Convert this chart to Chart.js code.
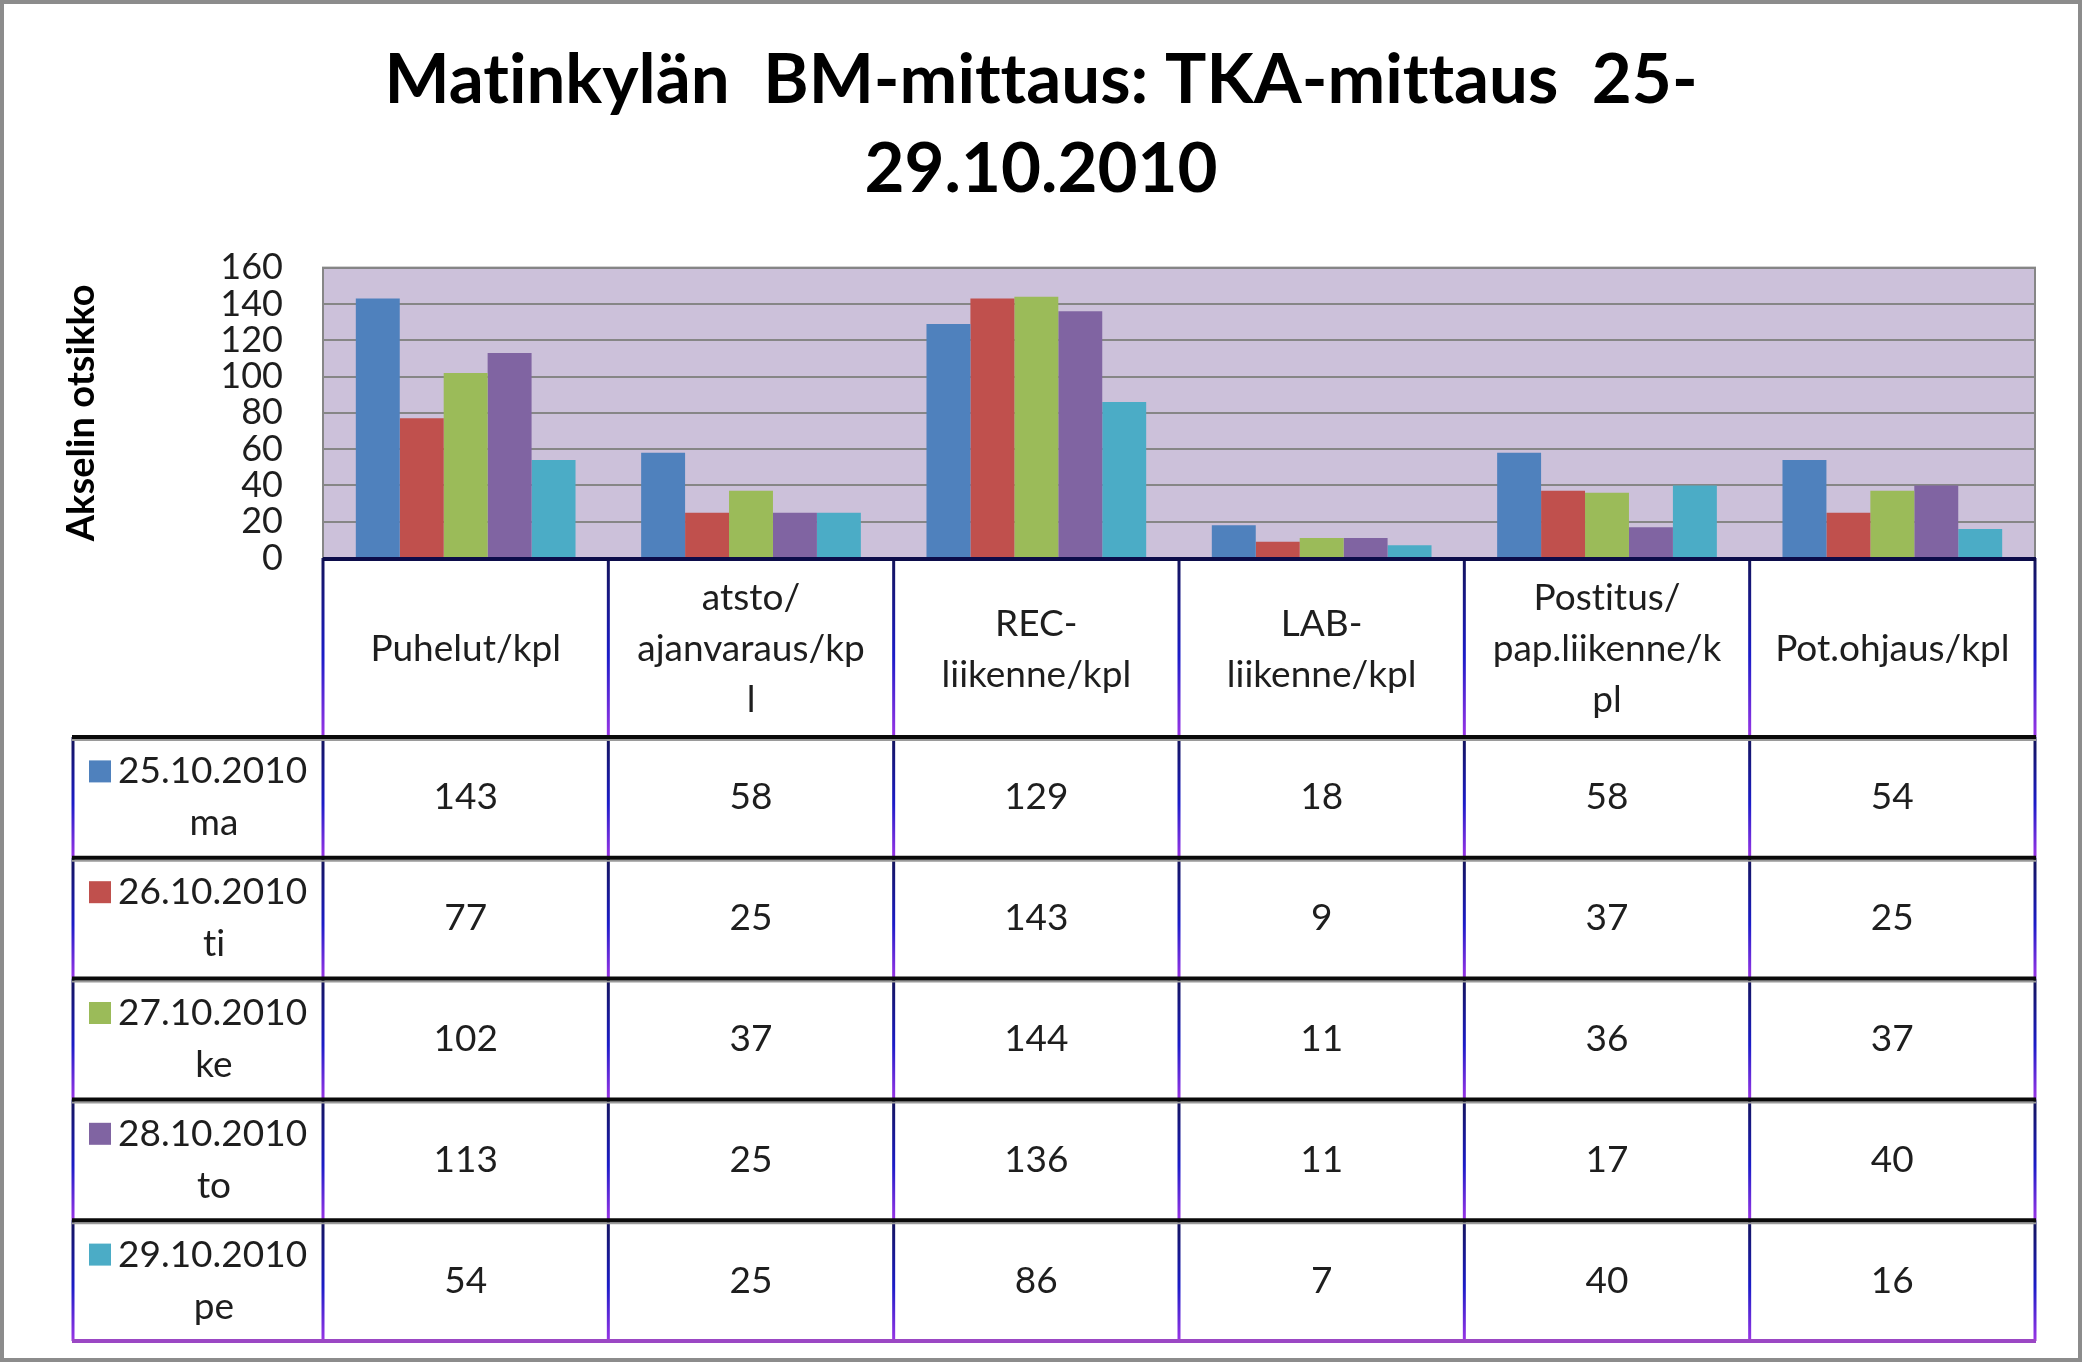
<!DOCTYPE html>
<html><head><meta charset="utf-8">
<script src="https://cdn.jsdelivr.net/npm/chart.js@4.4.1/dist/chart.umd.min.js"></script>
<style>html,body{margin:0;padding:0;background:#fff;overflow:hidden}canvas{display:block}</style>
</head><body>
<canvas id="c" width="2082" height="1362"></canvas>
<script>
// ---- data ----
const categories = ['Puhelut/kpl', 'atsto/ajanvaraus/kpl', 'REC-liikenne/kpl', 'LAB-liikenne/kpl', 'Postitus/pap.liikenne/kpl', 'Pot.ohjaus/kpl'];
const headerLines = [['Puhelut/kpl'], ['atsto/', 'ajanvaraus/kp', 'l'], ['REC-', 'liikenne/kpl'], ['LAB-', 'liikenne/kpl'], ['Postitus/', 'pap.liikenne/k', 'pl'], ['Pot.ohjaus/kpl']];
const seriesDates = ['25.10.2010', '26.10.2010', '27.10.2010', '28.10.2010', '29.10.2010'];
const seriesDays = ['ma', 'ti', 'ke', 'to', 'pe'];
const mon = [143, 58, 129, 18, 58, 54];
const tue = [77, 25, 143, 9, 37, 25];
const wed = [102, 37, 144, 11, 36, 37];
const thu = [113, 25, 136, 11, 17, 40];
const fri = [54, 25, 86, 7, 40, 16];
const yTicks = [0, 20, 40, 60, 80, 100, 120, 140, 160];
const titleLines = ['Matinkylän  BM-mittaus: TKA-mittaus  25-', '29.10.2010'];
const yTitle = 'Akselin otsikko';

const seriesValues = [mon, tue, wed, thu, fri];
const seriesColors = ['#4F81BD', '#C0504D', '#9BBB59', '#8064A2', '#4BACC6'];

// ---- layout constants ----
const HEAD_BOTTOM = 737, TABLE_BOTTOM = 1341, LEFT_COL_X = 73;

const bgPlugin = {
  id: 'bg',
  beforeDraw(chart) {
    const {ctx, chartArea: ca} = chart;
    try { ctx.textRendering = 'optimizeSpeed'; } catch (e) {}
    ctx.save();
    ctx.fillStyle = '#ffffff';
    ctx.fillRect(0, 0, chart.width, chart.height);
    ctx.fillStyle = '#CCC1DA';
    ctx.fillRect(ca.left, ca.top, ca.right - ca.left, ca.bottom - ca.top);
    ctx.restore();
  },
  afterDraw(chart) {
    const {ctx, chartArea: ca} = chart;
    ctx.save();
    ctx.strokeStyle = '#868686';
    ctx.lineWidth = 2;
    ctx.strokeRect(ca.left, ca.top, ca.right - ca.left, ca.bottom - ca.top);
    ctx.strokeStyle = '#8c8c8c';
    ctx.lineWidth = 4;
    ctx.strokeRect(2, 2, chart.width - 4, chart.height - 4);
    ctx.restore();
  }
};

function vline(ctx, x, y0, y1) {
  const g = ctx.createLinearGradient(0, y0, 0, y1);
  g.addColorStop(0, '#14145a');
  g.addColorStop(0.55, '#1c1cc8');
  g.addColorStop(1, '#9a35e6');
  ctx.strokeStyle = g;
  ctx.lineWidth = 3;
  ctx.beginPath(); ctx.moveTo(x, y0); ctx.lineTo(x, y1); ctx.stroke();
}
function hline(ctx, x0, x1, y, color, w) {
  ctx.strokeStyle = color; ctx.lineWidth = w;
  ctx.beginPath(); ctx.moveTo(x0, y); ctx.lineTo(x1, y); ctx.stroke();
}

const tablePlugin = {
  id: 'table',
  afterDraw(chart) {
    const ctx = chart.ctx, ca = chart.chartArea, xs = chart.scales.x;
    const n = categories.length;
    const colW = (ca.right - ca.left) / n;
    const top = ca.bottom;
    const rowH = (TABLE_BOTTOM - HEAD_BOTTOM) / seriesDates.length;
    ctx.save();
    ctx.fillStyle = '#1e1e1e';
    ctx.font = '37px Lato';
    ctx.textAlign = 'center';
    ctx.textBaseline = 'middle';
    for (let i = 0; i < n; i++) {
      const cx = xs.getPixelForValue(i);
      const lines = headerLines[i];
      const lh = 51;
      const cy = (top + HEAD_BOTTOM) / 2 + 2;
      const start = cy - (lines.length - 1) * lh / 2;
      lines.forEach((t, k) => ctx.fillText(t, cx, start + k * lh));
    }
    for (let s = 0; s < seriesDates.length; s++) {
      const rowTop = HEAD_BOTTOM + s * rowH;
      const cy = rowTop + rowH / 2;
      for (let i = 0; i < n; i++) {
        ctx.fillStyle = '#1e1e1e';
        ctx.textAlign = 'center';
        ctx.fillText(String(seriesValues[s][i]), xs.getPixelForValue(i), cy);
      }
      ctx.fillStyle = seriesColors[s];
      ctx.fillRect(89, cy - 26 - 11, 22, 22);
      ctx.fillStyle = '#1e1e1e';
      ctx.textAlign = 'left';
      ctx.fillText(seriesDates[s], 118, cy - 26);
      ctx.textAlign = 'center';
      ctx.fillText(seriesDays[s], 214, cy + 26);
    }
    for (let k = 0; k <= n; k++) {
      const x = ca.left + k * colW;
      vline(ctx, x, top, HEAD_BOTTOM);
      for (let s = 0; s < seriesDates.length; s++) {
        vline(ctx, x, HEAD_BOTTOM + s * rowH, HEAD_BOTTOM + (s + 1) * rowH);
      }
    }
    for (let s = 0; s < seriesDates.length; s++) {
      vline(ctx, LEFT_COL_X, HEAD_BOTTOM + s * rowH, HEAD_BOTTOM + (s + 1) * rowH);
    }
    hline(ctx, ca.left, ca.right + 1, top + 1, '#0c0c4a', 4);
    for (let s = 0; s < seriesDates.length; s++) {
      const y = HEAD_BOTTOM + s * rowH;
      hline(ctx, LEFT_COL_X - 1, ca.right + 1, y + 3, '#9a9a9a', 2);
      hline(ctx, LEFT_COL_X - 1, ca.right + 1, y, '#0a0a0a', 4);
    }
    hline(ctx, LEFT_COL_X - 1, ca.right + 1, TABLE_BOTTOM, '#9b47c4', 4);
    ctx.restore();
  }
};

const datasets = seriesValues.map((vals, s) => ({
  label: seriesDates[s] + ' ' + seriesDays[s],
  data: vals,
  backgroundColor: seriesColors[s],
  borderWidth: 0,
  barPercentage: 1,
  categoryPercentage: 0.77
}));

new Chart(document.getElementById('c'), {
  type: 'bar',
  data: {labels: categories, datasets},
  options: {
    responsive: false,
    animation: false,
    devicePixelRatio: 1,
    layout: {padding: {left: 47, right: 47, top: 0, bottom: 804}},
    plugins: {
      legend: {display: false},
      tooltip: {enabled: false},
      title: {
        display: true,
        text: titleLines,
        color: '#000000',
        font: {family: 'Lato', size: 69, weight: 'bold', lineHeight: 1.28},
        padding: {top: 37, bottom: 54}
      }
    },
    scales: {
      x: {display: false},
      y: {
        min: 0, max: 160,
        afterBuildTicks(scale) { scale.ticks = yTicks.map(v => ({value: v})); },
        afterFit(scale) { scale.width = 276; },
        ticks: {font: {family: 'Lato', size: 36}, color: '#1e1e1e', padding: 40, autoSkip: false},
        grid: {color: '#868686', lineWidth: 2, drawTicks: false},
        border: {display: false},
        title: {
          display: true, text: yTitle, color: '#000000',
          font: {family: 'Lato', size: 38, weight: 'bold', lineHeight: 1.2},
          padding: {top: 12, bottom: 0}
        }
      }
    }
  },
  plugins: [bgPlugin, tablePlugin]
});
</script>
</body></html>
